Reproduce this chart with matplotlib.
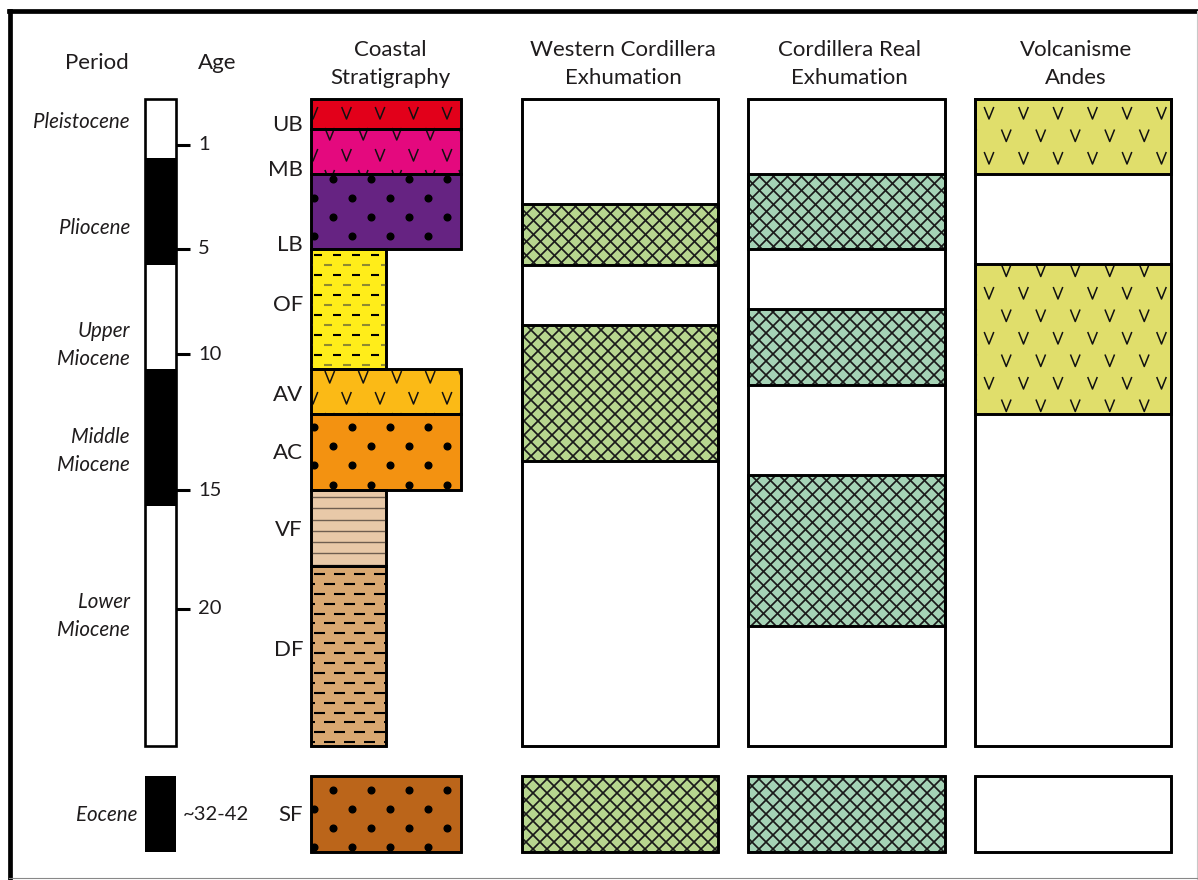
import matplotlib
matplotlib.use("Agg")  # no display in the sandbox
import matplotlib.pyplot as plt
from matplotlib.patches import Rectangle
from matplotlib.collections import LineCollection
import numpy as np

plt.rcParams["font.family"] = ["Lato", "DejaVu Sans"]

# ---- data (vertical values are levels on the diagram's depth axis, top = 99) ----
PERIOD_NAMES = ["Pleistocene", "Pliocene", "Upper\nMiocene", "Middle\nMiocene", "Lower\nMiocene"]
PERIOD_TOPS = [99, 158, 265, 369, 506]
PERIOD_BASE = 746
PERIOD_FILL = ["white", "black", "white", "black", "white"]
PERIOD_LABEL_Y = [122, 228, 345, 451, 616]

AGE_LABELS = ["1", "5", "10", "15", "20"]
AGE_Y = [145, 249, 354, 490, 609]

UNITS = ["UB", "MB", "LB", "OF", "AV", "AC", "VF", "DF"]
UNIT_TOPS = [99, 129, 174, 249, 369, 414, 490, 566]
UNIT_BASE = 746
UNIT_WIDE = [True, True, True, False, True, True, False, False]
UNIT_LITH = ["volc", "volc", "dots", "dash", "volc", "dots", "lines", "dash"]
UNIT_COLORS = ["#e2001a", "#e4097e", "#662382", "#ffed1a",
               "#fbba16", "#f39211", "#e8c9a8", "#d9a871"]
UNIT_LABEL_Y = [125, 170, 245, 305, 395, 453, 530, 650]

WC_BANDS = [(204, 265), (325, 461)]
CR_BANDS = [(174, 249), (309, 385), (475, 626)]
VA_BANDS = [(99, 174), (264, 414)]

EOCENE_TOP, EOCENE_BASE = 776, 852
EOCENE_LABEL, EOCENE_AGE, EOCENE_UNIT = "Eocene", "~32-42", "SF"
EOCENE_ACTIVE = {"wc": True, "cr": True, "va": False}

HEADERS = ["Period", "Age", "Coastal\nStratigraphy", "Western Cordillera\nExhumation",
           "Cordillera Real\nExhumation", "Volcanisme\nAndes"]

# ---- layout ----
COL = {"period": (145, 176), "coast": (311, 461), "coast_narrow": (311, 386),
       "wc": (522, 718), "cr": (748, 945), "va": (975, 1171)}
GREEN, TEAL, VOLC = "#b7d68f", "#a5d3b6", "#e0de6b"
TXT = "#1f1c1d"
LW = 1.9


def box(ax, x0, x1, y0, y1, color, lw=LW):
    r = Rectangle((x0, y0), x1 - x0, y1 - y0, facecolor=color, edgecolor="black",
                  lw=lw, joinstyle="miter", zorder=2)
    ax.add_patch(r)
    return r


def outline(ax, x0, x1, y0, y1):
    ax.add_patch(Rectangle((x0, y0), x1 - x0, y1 - y0, fill=False, edgecolor="black",
                           lw=LW, joinstyle="miter", zorder=4))


def dots(ax, clip, x0, x1, y0, y1):
    # staggered dot lattice shared by all conglomerate units
    k0 = int(np.floor((y0 - 179) / 19.1)) - 1
    k1 = int(np.ceil((y1 - 179) / 19.1)) + 1
    xs, ys = [], []
    for k in range(k0, k1 + 1):
        y = 179 + 19.1 * k
        start = 333 if k % 2 == 0 else 314
        for x in np.arange(start - 38 * 3, x1 + 5, 38):
            if x0 - 5 < x < x1 + 5:
                xs.append(x)
                ys.append(y)
    ln, = ax.plot(xs, ys, "o", ms=4.8, color="black", zorder=3)
    ln.set_clip_path(clip)


def vees(ax, clip, x0, x1, y0, y1, ystart, dy, dx, xstart):
    segs = []
    k0 = int(np.floor((y0 - ystart) / dy)) - 1
    k1 = int(np.ceil((y1 - ystart) / dy)) + 1
    for k in range(k0, k1 + 1):
        y = ystart + dy * k
        start = xstart if k % 2 == 0 else xstart + dx / 2
        for x in np.arange(start - dx * 3, x1 + 8, dx):
            if x0 - 8 < x < x1 + 8:
                segs.append([(x - 4.8, y - 6), (x, y + 6), (x + 4.8, y - 6)])
    lc = LineCollection(segs, colors="#111111", linewidths=1.1, zorder=3)
    ax.add_collection(lc)
    lc.set_clip_path(clip)


def dashes(ax, clip, x0, x1, y0, y1, ystart, dy, period, length, colors):
    segs, cols = [], []
    k = 0
    y = ystart
    while y < y1 + 2:
        start = x0 + 3 if k % 2 == 0 else x0 + 3 + period / 2
        for x in np.arange(start - period, x1, period):
            segs.append([(x, y), (x + length, y)])
            cols.append(colors[k % len(colors)])
        k += 1
        y = ystart + dy * k
    lc = LineCollection(segs, colors=cols, linewidths=1.5, zorder=3)
    ax.add_collection(lc)
    lc.set_clip_path(clip)


def hlines(ax, clip, x0, x1, y0, y1, ystart, dy):
    segs = [[(x0, y), (x1, y)] for y in np.arange(ystart, y1, dy)]
    lc = LineCollection(segs, colors="#6e5e50", linewidths=1.0, zorder=3)
    ax.add_collection(lc)
    lc.set_clip_path(clip)


def crosshatch(ax, clip, x0, x1, y0, y1, spacing=14):
    h = y1 - y0
    segs = []
    for c in np.arange(x0 - h, x1 + spacing, spacing):
        segs.append([(c, y0), (c + h, y1)])
        segs.append([(c, y1), (c + h, y0)])
    lc = LineCollection(segs, colors="#1a1a1a", linewidths=1.25, zorder=3)
    ax.add_collection(lc)
    lc.set_clip_path(clip)


fig = plt.figure(figsize=(11.98, 8.80), dpi=100)
ax = fig.add_axes([0, 0, 1, 1])
ax.set_xlim(0, 1198)
ax.set_ylim(880, 0)
ax.axis("off")

# frame (cut off on the right and bottom)
ax.plot([9, 1198], [11, 11], color="black", lw=3.4, solid_capstyle="projecting")
ax.plot([9.5, 9.5], [11, 880], color="black", lw=3.4, solid_capstyle="projecting")
ax.plot([1197, 1197], [11, 880], color="#c8c8c8", lw=0.8)
ax.plot([9, 1198], [878, 878], color="#888888", lw=0.8)

# headers
hx = [97, 217, 390, sum(COL["wc"]) / 2 + 3, sum(COL["cr"]) / 2 + 3, sum(COL["va"]) / 2 + 3]
for x, t in zip(hx, HEADERS):
    y = 63 if "\n" not in t else 64
    ax.text(x, y, t, ha="center", va="center", fontsize=16, color=TXT,
            linespacing=1.55)

# period column
px0, px1 = COL["period"]
bounds = PERIOD_TOPS + [PERIOD_BASE]
for i, name in enumerate(PERIOD_NAMES):
    box(ax, px0, px1, bounds[i], bounds[i + 1], PERIOD_FILL[i], lw=0)
    ax.text(130, PERIOD_LABEL_Y[i], name, ha="right", va="center", fontsize=14.8,
            style="italic", color=TXT, linespacing=1.45)
outline(ax, px0, px1, PERIOD_TOPS[0], PERIOD_BASE)
for lab, y in zip(AGE_LABELS, AGE_Y):
    ax.plot([px1, px1 + 14], [y, y], color="black", lw=2.2, solid_capstyle="butt")
    ax.text(px1 + 22, y, lab, ha="left", va="center", fontsize=14.5, color=TXT)

# coastal stratigraphy
ubounds = UNIT_TOPS + [UNIT_BASE]
for i, name in enumerate(UNITS):
    x0, x1 = COL["coast"] if UNIT_WIDE[i] else COL["coast_narrow"]
    y0, y1 = ubounds[i], ubounds[i + 1]
    r = box(ax, x0, x1, y0, y1, UNIT_COLORS[i])
    lith = UNIT_LITH[i]
    if lith == "dots":
        dots(ax, r, x0, x1, y0, y1)
    elif lith == "volc":
        ystart = 113 if i < 2 else 356
        vees(ax, r, x0, x1, y0, y1, ystart, 21, 33.5, 313)
    elif lith == "dash":
        if name == "OF":
            dashes(ax, r, x0, x1, y0, y1, 255, 10, 19, 8, ["black", "#8f8a30"])
        else:
            dashes(ax, r, x0, x1, y0, y1, 574, 9.9, 20, 11, ["black"])
    elif lith == "lines":
        hlines(ax, r, x0, x1, y0, y1, 497, 11.3)
    # redraw border above the pattern
    outline(ax, x0, x1, y0, y1)
    ax.text(303, UNIT_LABEL_Y[i], name, ha="right", va="center", fontsize=16,
            color=TXT)

# exhumation and volcanism columns
for key, bands, color in [("wc", WC_BANDS, GREEN), ("cr", CR_BANDS, TEAL), ("va", VA_BANDS, VOLC)]:
    x0, x1 = COL[key]
    box(ax, x0, x1, PERIOD_TOPS[0], PERIOD_BASE, "white")
    for y0, y1 in bands:
        r = box(ax, x0, x1, y0, y1, color)
        if key == "va":
            vees(ax, r, x0, x1, y0, y1, 113, 22.5, 34.5, 989)
        else:
            crosshatch(ax, r, x0, x1, y0, y1)
        outline(ax, x0, x1, y0, y1)
    outline(ax, x0, x1, PERIOD_TOPS[0], PERIOD_BASE)

# Eocene row
box(ax, px0, px1, EOCENE_TOP, EOCENE_BASE, "black", lw=0)
ax.text(137, 815, EOCENE_LABEL, ha="right", va="center", fontsize=14.8, style="italic",
        color=TXT)
ax.text(183, 815, EOCENE_AGE, ha="left", va="center", fontsize=14.5, color=TXT)
x0, x1 = COL["coast"]
r = box(ax, x0, x1, EOCENE_TOP, EOCENE_BASE, "#bb651a")
dots(ax, r, x0, x1, EOCENE_TOP, EOCENE_BASE)
outline(ax, x0, x1, EOCENE_TOP, EOCENE_BASE)
ax.text(303, 815, EOCENE_UNIT, ha="right", va="center", fontsize=16, color=TXT)
for key, color in [("wc", GREEN), ("cr", TEAL), ("va", VOLC)]:
    x0, x1 = COL[key]
    if EOCENE_ACTIVE[key]:
        r = box(ax, x0, x1, EOCENE_TOP, EOCENE_BASE, color)
        crosshatch(ax, r, x0, x1, EOCENE_TOP, EOCENE_BASE)
    else:
        box(ax, x0, x1, EOCENE_TOP, EOCENE_BASE, "white")
    outline(ax, x0, x1, EOCENE_TOP, EOCENE_BASE)

fig.savefig("out.png", dpi=100)
